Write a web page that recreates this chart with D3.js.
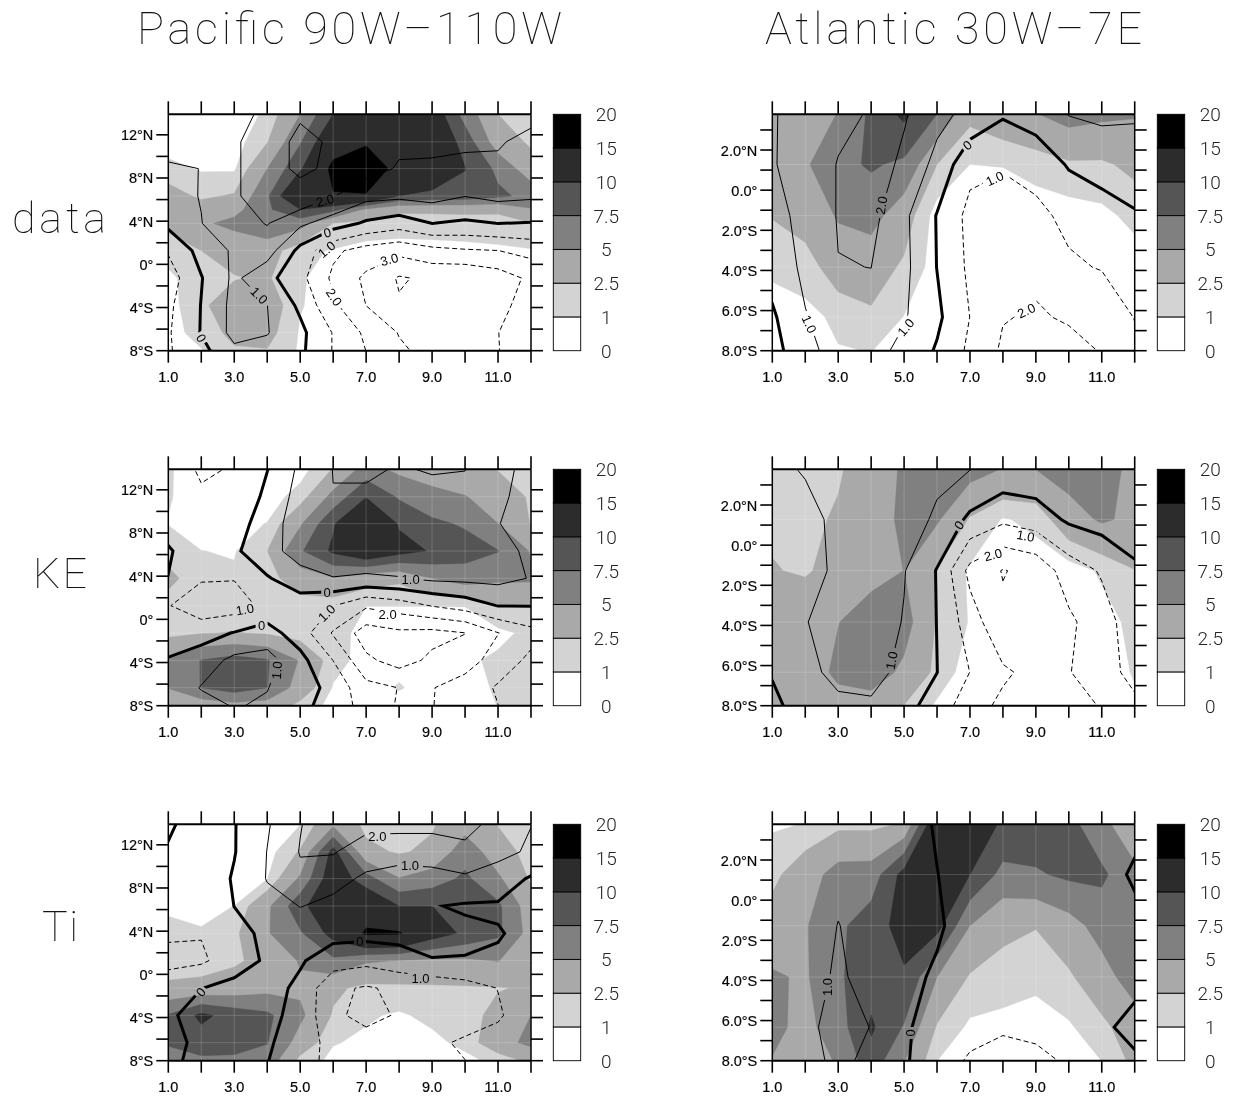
<!DOCTYPE html>
<html><head><meta charset="utf-8">
<style>html,body{margin:0;background:#fff}svg{display:block}text{opacity:.99}</style>
<script src="https://cdn.jsdelivr.net/npm/d3@7"></script></head><body><svg id="c" width="1235" height="1099"></svg>
<script>
const months=[1,2,3,4,5,6,7,8,9,10,11,12];
const pacificRows=[13.9,11.35,8.87,6.33,3.8,1.27,-1.27,-3.8,-6.33,-8];
const pacificShadeRowsData=[13.9,11.35,8.87,6.33,5.07,3.8,1.27,-1.27,-3.8,-6.33,-8];
const atlanticRows=[3.78,1.28,-1.27,-3.83,-6.33,-8];
const shadeLevels=[1,2.5,5,7.5,10,15];
const shadeColors=["#d3d3d3","#a9a9a9","#808080","#555555","#2c2c2c","#000000"];
const lineLevels=[-4,-3,-2,-1,0,1,2,3];
const colorbarLabels=["0","1","2.5","5","7.5","10","15","20"];
const colorbarFills=["#ffffff","#d3d3d3","#a9a9a9","#808080","#555555","#2c2c2c","#000000"];
const xTickLabels=["1.0","3.0","5.0","7.0","9.0","11.0"];
const pacificLatTicks=[[-8,"8°S"],[-4,"4°S"],[0,"0°"],[4,"4°N"],[8,"8°N"],[12,"12°N"]];
const atlanticLatTicks=[[-8,"8.0°S"],[-6,"6.0°S"],[-4,"4.0°S"],[-2,"2.0°S"],[0,"0.0°"],[2,"2.0°N"]];

const pacDataShade=[
[.2,.2,.1,1.3,5,10,12.5,13,12,6.5,2.5,1.6],
[.17,.2,.3,2.4,7.3,13,14.5,14,13,8.9,3.6,2.2],
[1.5,.85,.8,5,9.6,16,18,13.5,13,10.1,6.9,3.4],
[3.3,2.2,2.7,7.1,14.5,14.8,14.7,10,9.2,9,8,6.8],
[3.2,3.4,4.2,7.05,10,8.3,4.5,2.9,2.9,3,2.9,4.8],
[3,4.6,5.7,7,6,2.5,1.9,1.5,1.6,1.6,1.7,2.4],
[1.6,2.5,3.2,3.5,1.3,.9,.5,.6,.6,.7,.8,.9],
[.7,1.8,2.4,2.7,1.15,.4,.2,.2,.2,.2,.2,.2],
[.4,2.2,3.5,3.8,1.1,.3,.2,.2,.2,.2,.2,.2],
[.4,1.6,3,3.2,.85,.3,.2,.2,.2,.2,.2,.2],
[.4,.9,2.3,2.4,.8,.3,.2,.2,.2,.2,.2,.2]];
const pacDataLine=[
[1.6,1.8,1.7,2.2,2.95,2.6,2.5,2.4,2.5,2.5,2.5,2.3],
[1.3,1.6,1.8,2.8,3.1,2.95,2.5,2.2,2.3,2.2,2.1,1.7],
[.9,1.01,1.8,2.8,3.1,2.9,2.4,1.9,1.8,1.7,1.8,1.5],
[.75,1.03,1.8,2.8,2.8,2.05,1.3,1.2,1.33,1.02,1.25,1.15],
[.25,.98,1.6,2.05,1.2,.5,-.15,-.5,.01,-.15,.01,-.05],
[-.9,.35,1.15,1.45,-.3,-1.8,-2.4,-2.7,-2.3,-2.1,-2.01,-1.67],
[-1.5,-.05,1.2,.3,-.7,-2.2,-3.2,-4.1,-3.8,-3.9,-3.5,-2.8],
[-1.2,.03,1.3,1.01,-.2,-1.8,-3.01,-3.9,-3.6,-3.8,-3.2,-2.7],
[-1.1,.05,1.3,1.05,.25,-1.05,-2.2,-3.05,-3.4,-3.6,-3.01,-2.6],
[-1.1,-.3,.8,.7,.2,-1.05,-2.01,-2.85,-3.3,-3.5,-3.02,-2.6]];
const pacDataLabels=[[5.75,5.93,"2.0",-15],[5.82,2.94,"0",-15],[5.8,1.39,"1.0",-40],[7.7,.46,"3.0",-15],[6.03,-3.03,"2.0",55],[3.76,-2.87,"1.0",45],[2,-6.83,"0",60]];

const atlDataShade=[
[4,4.3,5.05,8,10.6,7.5,3,4,4.9,6,5.5,5.2],
[3.8,4.7,6.8,7.8,7,2.5,1,1.05,1.5,2.2,2.2,3],
[2.6,3.6,5.2,5.9,3.5,.3,.2,.2,.3,.3,.63,1.4],
[1.3,1.5,3.8,3.5,2.2,.3,.2,.2,.2,.2,.3,.3],
[.3,.7,1.2,2.2,.95,.2,.2,.2,.2,.2,.2,.2],
[.3,.4,.95,1.02,.6,.2,.2,.2,.2,.2,.2,.2]];
const atlDataLine=[
[.9,1.5,1.85,2.05,2.1,1.3,.7,.1,.5,1.03,1.15,1.08],
[.9,1.6,2.03,2.5,1.8,.7,-.7,-.9,-.7,.1,.5,.65],
[.6,1.35,2.05,2.3,1.2,-.05,-1.3,-1.5,-1.2,-.8,-.55,-.1],
[.4,1.2,1.98,2.005,1.25,-.02,-1.2,-1.6,-1.8,-1.12,-.95,-.5],
[-.15,.95,1.5,1.8,1.1,.2,-1.01,-1.95,-2.1,-1.9,-1.6,-.97],
[-.45,.85,1.2,1.4,.7,-.1,-1.2,-2.15,-2.3,-2.3,-1.95,-1.2]];
const atlDataLabels=[[6.92,2.25,"0",-40],[7.75,.58,"1.0",-25],[4.31,-.75,"2.0",-80],[8.71,-6,"2.0",-25],[2.12,-6.67,"1.0",65],[5.05,-6.83,"1.0",-50]];

const pacKeShade=[
[1.1,.5,.2,.3,.4,2.6,6,4.4,3.7,3.4,2.4,1.6],
[1.1,.4,.3,.3,1.6,5.8,9.9,7.2,5.8,5.1,4,2.2],
[.95,.4,.5,1.05,4.7,9.7,14.5,9.7,8,7.2,5.01,2.4],
[1.8,1.02,.9,2.5,7.2,10.5,13,11,9.8,8.6,7.6,4.8],
[3,1.5,1.2,1.9,3.5,4.8,3.4,2.9,5.01,6.2,5.5,5.4],
[1.8,1.4,1.3,1.3,1.8,1.5,1.01,1.01,1.01,1.01,2.3,2.4],
[2,2.4,2.6,2.3,1.6,1.35,.7,.7,.7,.8,.7,1.3],
[5.3,7.6,8.5,7.7,4.8,1.5,.5,.6,.7,.8,1.2,1.7],
[5.1,7.6,8.7,7.55,3.8,.9,.5,1.1,.5,.7,1.1,1.8],
[3,3.5,4.2,3.8,2,.5,.5,.5,.5,.5,1.02,1.7]];
const pacKeLine=[
[-.6,-1.1,-.95,-.02,1.2,2.02,2.1,1.95,2.05,2.02,1.2,.8],
[-.4,-.9,-.7,.2,1.4,1.98,1.9,1.7,1.8,1.7,1.15,.7],
[-.4,-.7,-.4,.45,1.6,1.9,1.9,1.7,1.7,1.6,1.03,.6],
[.1,-.6,-.1,.4,1.7,1.9,1.7,1.7,1.7,1.6,1.5,.7],
[-.02,-.9,-.95,-.05,.35,.95,.85,.95,1.2,1.25,1.3,.95],
[-.95,-1.6,-1.5,-.7,-.3,-.97,-1.85,-1.5,-.95,-.55,.03,.03],
[-.3,-.4,.05,.4,-.5,-2.1,-3.5,-3.2,-3.3,-3.02,-2.03,-1.3],
[.04,.5,1.25,1.4,.3,-1.01,-2.8,-3.4,-2.8,-2.5,-1.5,-.8],
[.4,1.05,1.5,1.03,.45,-.3,-1.7,-2.02,-2.05,-1.5,-.9,-.4],
[.3,.7,1.05,.9,.25,-.4,-1.4,-2.1,-2.05,-1.2,-1.01,-.2]];
const pacKeLabels=[[8.35,3.68,"1.0",0],[5.82,2.53,"0",0],[3.83,-.56,"0",0],[3.32,.93,"1.0",-10],[5.8,.59,"1.0",-45],[7.65,.46,"2.0",0],[4.29,-4.73,"1.0",-85]];

const atlKeShade=[
[2.2,2.2,2.4,3,5.5,6.5,6,4.9,5.02,6,5.6,4.6],
[2.2,2.3,2.6,3.6,5.6,5.3,2.3,.9,1.3,4,5.3,4.5],
[2.6,2.3,3.2,4.3,5.02,2.3,.8,.4,.4,.3,1.2,2.45],
[3.8,3.9,4.95,6,6,2.3,.9,.2,.2,.2,.5,1.35],
[4.2,4,5.4,6.2,4.5,2,.2,.2,.2,.2,.4,1.1],
[2.4,3.7,4.3,4,2.45,.75,.2,.2,.2,.2,.3,.8]];
const atlKeLine=[
[.85,1.05,1.5,1.6,1.6,1.3,1.02,.7,.7,.8,.9,.95],
[.65,.8,1.15,1.6,1.6,.8,-.2,-.8,-.5,.15,.4,.7],
[.6,.8,1.1,1.6,1.05,-.05,-2.3,-3.05,-2.7,-1.5,-.9,-.2],
[.55,.95,1.5,1.5,.95,-.02,-1.5,-2.8,-2.7,-2.2,-1.4,-.5],
[.05,.8,1.2,1.25,.8,.01,-1.01,-1.85,-2.3,-2.05,-1.4,-.7],
[-.15,.3,.85,.9,.3,-.4,-1.6,-2.2,-2.6,-2.3,-1.95,-1.2]];
const atlKeLabels=[[6.67,1,"0",-55],[8.69,.47,"1.0",10],[7.7,-.47,"2.0",-15],[4.62,-5.75,"1.0",-80]];

const pacTiShade=[
[.2,.2,.2,.3,.95,4.5,2,1.6,2.3,4,2.4,1.4],
[.2,.2,.2,.4,2.7,11,3,2.3,2.9,6.5,3.6,1.7],
[.2,.2,.3,.95,5.4,12,8.5,5.1,6.2,8,5.4,2.2],
[.7,.7,1.01,4.5,9.3,12.5,13,10.01,10.01,8.7,8,3.5],
[1.5,1.1,2.1,4.8,7.2,11,15.5,15.4,11.5,9.5,8,4],
[1.5,1.8,2.2,3.2,5.2,7,5.3,4.9,4.6,4.6,5.1,2.9],
[2.9,3,3.5,4.2,4.6,2.9,2,2.1,2.2,2.3,2.4,2.7],
[7.7,10.6,9,8,5.5,2.3,1.2,.8,1.4,1.9,3,5.01],
[8,8.8,8.5,7.6,4,1.1,.7,.3,.6,1.4,4.1,5.6],
[5.5,7,7,6.5,1.9,.6,.3,.3,.4,.6,1.4,3]];
const pacTiLine=[
[.15,-.5,-.05,.9,1.95,2.7,2.4,2.4,2.4,2.4,1.6,1.02],
[-.1,-.6,-.05,1.02,2.05,2.1,1.3,1.2,1.2,1.7,1.3,.85],
[-.3,-.7,.1,1.05,1.8,1.2,.9,.8,.85,.85,.5,-.1],
[-.4,-.8,.01,.7,1.02,.85,.8,.7,.05,-.1,-.1,-.3],
[-.9,-.95,-.3,.2,.6,.3,.3,.3,.4,.2,.05,-.2],
[-1.2,-1.15,-.5,.15,.1,-.5,-.7,-.4,-.05,-.05,-.1,-.3],
[-.6,-.02,.3,.35,-.2,-1.8,-2.1,-1.8,-1.7,-1.4,-.98,-.4],
[-.2,.5,.7,.25,-.3,-1.8,-2.3,-1.9,-1.7,-1.5,-1.1,-.5],
[-.4,.3,.7,.1,-.4,-1.4,-1.6,-1.5,-1.2,-.85,-.7,-.3],
[-.15,.2,.5,.03,-.6,-1.3,-1.3,-1.5,-1.3,-1.01,-.6,-.2]];
const pacTiLabels=[[7.34,12.83,"2.0",0],[8.33,10.1,"1.0",0],[6.81,3.09,"0",0],[1.98,-1.64,"0",-50],[8.65,-.34,"1.0",0]];

const atlTiShade=[
[.8,1.05,2,2,2.7,13,11,9.8,9.2,8.4,5.6,3.5],
[2,3.8,6,6.1,11,13,10.01,6.7,7.2,8,8,5.5],
[3.4,4.8,7,8.8,11,11,5.01,3,2.6,4,6,5.9],
[5.3,4.7,7.2,8.8,9.7,5.01,2.3,1.8,1.3,2.2,4,6.3],
[5.6,4.3,6.3,10.4,7.3,2.3,.7,.5,.5,.8,2,3.7],
[4.9,4,5.2,9,5.1,1.01,.3,.2,.2,.4,1.01,3]];
const atlTiLine=[
[.3,.4,.5,.5,.5,-.1,-.3,-.4,-.4,-.4,-.3,-.2],
[.3,.4,.8,.6,.6,.02,-.5,-.6,-.6,-.5,-.3,.1],
[.3,.5,1.02,.7,.6,.15,-.5,-.6,-.6,-.5,-.4,-.2],
[.4,.5,1.17,.6,.3,-.15,-.5,-.6,-.6,-.5,-.4,-.2],
[.4,.8,1.3,.98,.08,-.25,-.6,-.9,-.8,-.6,-.12,.2],
[.3,.85,1.1,.9,.08,-.4,-1.15,-1.3,-1.2,-.9,-.4,-.1]];
const atlTiLabels=[[2.67,-4.33,"1.0",-90],[5.19,-6.62,"0",-90]];

const columnTitles=[["Pacific 90W–110W",137,562,44],["Atlantic 30W–7E",765,1142,44]];
const rowTitles=[["data",12,106,233],["KE",33,87,588],["Ti",42,78,941]];

const panels=[
 {id:"p1",left:168.3,right:531,top:114.3,bar:553.3,basin:"pac",shade:pacDataShade,shadeRows:pacificShadeRowsData,line:pacDataLine,labels:pacDataLabels},
 {id:"p2",left:772.3,right:1134.7,top:114.3,bar:1157.3,basin:"atl",shade:atlDataShade,shadeRows:atlanticRows,line:atlDataLine,labels:atlDataLabels},
 {id:"p3",left:168.3,right:531,top:469.3,bar:553.3,basin:"pac",shade:pacKeShade,shadeRows:pacificRows,line:pacKeLine,labels:pacKeLabels},
 {id:"p4",left:772.3,right:1134.7,top:469.3,bar:1157.3,basin:"atl",shade:atlKeShade,shadeRows:atlanticRows,line:atlKeLine,labels:atlKeLabels},
 {id:"p5",left:168.3,right:531,top:824.3,bar:553.3,basin:"pac",shade:pacTiShade,shadeRows:pacificRows,line:pacTiLine,labels:pacTiLabels},
 {id:"p6",left:772.3,right:1134.7,top:824.3,bar:1157.3,basin:"atl",shade:atlTiShade,shadeRows:atlanticRows,line:atlTiLine,labels:atlTiLabels}
];
const H=236.4,BW=27.4;
const svg=d3.select("#c");
const tickFont="'Liberation Sans',Arial,sans-serif";
const thinFont="Roboto,'Open Sans',sans-serif";

function contourPath(rows,xS,yS){
  const rowLat=d3.scaleLinear().domain(rows.map((_,i)=>i+.5)).range(rows);
  return d3.geoPath(d3.geoTransform({point(gx,gy){this.stream.point(xS(gx+.5),yS(rowLat(gy)));}}));
}
function contoursOf(grid,levels){
  return d3.contours().size([months.length,grid.length]).thresholds(levels)(grid.flat());
}

panels.forEach(p=>{
  const isPac=p.basin==="pac";
  const topLat=isPac?13.9:3.78;
  const rows=isPac?pacificRows:atlanticRows;
  const x=d3.scaleLinear().domain([1,12]).range([p.left,p.right]);
  const y=d3.scaleLinear().domain([-8,topLat]).range([p.top+H,p.top]);
  const g=svg.append("g");
  g.append("clipPath").attr("id","clip-"+p.id).append("rect")
    .attr("x",p.left).attr("y",p.top).attr("width",p.right-p.left).attr("height",H);
  const plot=g.append("g").attr("clip-path","url(#clip-"+p.id+")");
  plot.append("rect").attr("x",p.left).attr("y",p.top).attr("width",p.right-p.left).attr("height",H).attr("fill","#fff");
  const sp=contourPath(p.shadeRows,x,y);
  plot.selectAll("path.s").data(contoursOf(p.shade,shadeLevels)).join("path").attr("class","s")
    .attr("d",sp).attr("fill",(d,i)=>shadeColors[i]).attr("stroke",(d,i)=>shadeColors[i]).attr("stroke-width",.3);
  plot.selectAll("line.gx").data(months).join("line").attr("class","gx")
    .attr("x1",d=>x(d)).attr("x2",d=>x(d)).attr("y1",p.top).attr("y2",p.top+H)
    .attr("stroke","#fff").attr("stroke-opacity",.22).attr("stroke-width",.8);
  plot.selectAll("line.gy").data(rows).join("line").attr("class","gy")
    .attr("y1",d=>y(d)).attr("y2",d=>y(d)).attr("x1",p.left).attr("x2",p.right)
    .attr("stroke","#fff").attr("stroke-opacity",.22).attr("stroke-width",.8);
  const mask=g.append("mask").attr("id","mask-"+p.id).attr("maskUnits","userSpaceOnUse")
    .attr("x",0).attr("y",0).attr("width",1235).attr("height",1099);
  mask.append("rect").attr("width",1235).attr("height",1099).attr("fill","#fff");
  mask.selectAll("rect.l").data(p.labels).join("rect").attr("class","l")
    .attr("x",d=>d[2].length>1?-13:-6).attr("y",-6).attr("width",d=>d[2].length>1?26:12).attr("height",12)
    .attr("fill","#000").attr("transform",d=>`translate(${x(d[0])},${y(d[1])}) rotate(${d[3]})`);
  const lp=contourPath(rows,x,y);
  plot.append("g").attr("mask","url(#mask-"+p.id+")").selectAll("path.l").data(contoursOf(p.line,lineLevels)).join("path").attr("class","l")
    .attr("d",lp).attr("fill","none").attr("stroke","#000")
    .attr("stroke-width",d=>d.value===0?3:1)
    .attr("stroke-dasharray",d=>d.value<0?"5,3":null);
  g.selectAll("text.cl").data(p.labels).join("text").attr("class","cl")
    .attr("transform",d=>`translate(${x(d[0])},${y(d[1])}) rotate(${d[3]})`)
    .attr("text-anchor","middle").attr("dy","0.36em")
    .attr("font-family",tickFont).attr("font-size",13).attr("fill","#000").text(d=>d[2]);
  g.append("g").selectAll("line").data([p.top,p.top+H]).join("line")
    .attr("x1",p.left).attr("x2",p.right).attr("y1",d=>d).attr("y2",d=>d).attr("stroke","#000").attr("stroke-width",2);
  g.append("g").selectAll("line").data([p.left,p.right]).join("line")
    .attr("x1",d=>d).attr("x2",d=>d).attr("y1",p.top).attr("y2",p.top+H).attr("stroke","#000").attr("stroke-width",1.5);
  [[p.top-13,p.top],[p.top+H,p.top+H+12]].forEach(([a,b])=>{
    g.append("g").selectAll("line").data(months).join("line")
      .attr("x1",d=>x(d)).attr("x2",d=>x(d)).attr("y1",a).attr("y2",b).attr("stroke","#000").attr("stroke-width",1.6);
  });
  g.append("g").selectAll("text").data(xTickLabels).join("text")
    .attr("x",d=>x(+d)).attr("y",p.top+H+31.5).attr("text-anchor","middle")
    .attr("font-family",tickFont).attr("font-size",14.5).attr("stroke","#000").attr("stroke-width",.2).text(d=>d);
  const yt=isPac?d3.range(-8,13,2):d3.range(-8,4,1);
  [[p.left-12,p.left],[p.right,p.right+12]].forEach(([a,b])=>{
    g.append("g").selectAll("line").data(yt).join("line")
      .attr("x1",a).attr("x2",b).attr("y1",d=>y(d)).attr("y2",d=>y(d)).attr("stroke","#000").attr("stroke-width",1.6);
  });
  g.append("g").selectAll("text").data(isPac?pacificLatTicks:atlanticLatTicks).join("text")
    .attr("x",p.left-15).attr("y",d=>y(d[0])+5.5).attr("text-anchor","end")
    .attr("font-family",tickFont).attr("font-size",14.5).attr("stroke","#000").attr("stroke-width",.2).text(d=>d[1]);
  const cb=d3.scaleLinear().domain([0,colorbarFills.length]).range([p.top+H,p.top]);
  g.append("g").selectAll("rect").data(colorbarFills).join("rect")
    .attr("x",p.bar).attr("width",BW).attr("y",(d,i)=>cb(i+1)).attr("height",(d,i)=>cb(i)-cb(i+1))
    .attr("fill",d=>d).attr("stroke","#000").attr("stroke-width",.9);
  g.append("g").selectAll("text").data(colorbarLabels).join("text")
    .attr("x",p.bar+53).attr("y",(d,i)=>cb(i)+7).attr("text-anchor","middle")
    .attr("font-family",thinFont).attr("font-weight",300).attr("font-size",19).attr("fill","#222").text(d=>d);
});
svg.selectAll("text.ct").data(columnTitles).join("text").attr("class","ct")
  .attr("x",d=>d[1]).attr("y",d=>d[3]).attr("textLength",d=>d[2]-d[1]).attr("lengthAdjust","spacing")
  .attr("font-family",thinFont).attr("font-weight",100).attr("font-size",45).attr("fill","#111").text(d=>d[0]);
svg.selectAll("text.rt").data(rowTitles).join("text").attr("class","rt")
  .attr("x",d=>d[1]).attr("y",d=>d[3]).attr("textLength",d=>d[2]-d[1]).attr("lengthAdjust","spacing")
  .attr("font-family",thinFont).attr("font-weight",100).attr("font-size",43).attr("fill","#111").text(d=>d[0]);
</script></body></html>
